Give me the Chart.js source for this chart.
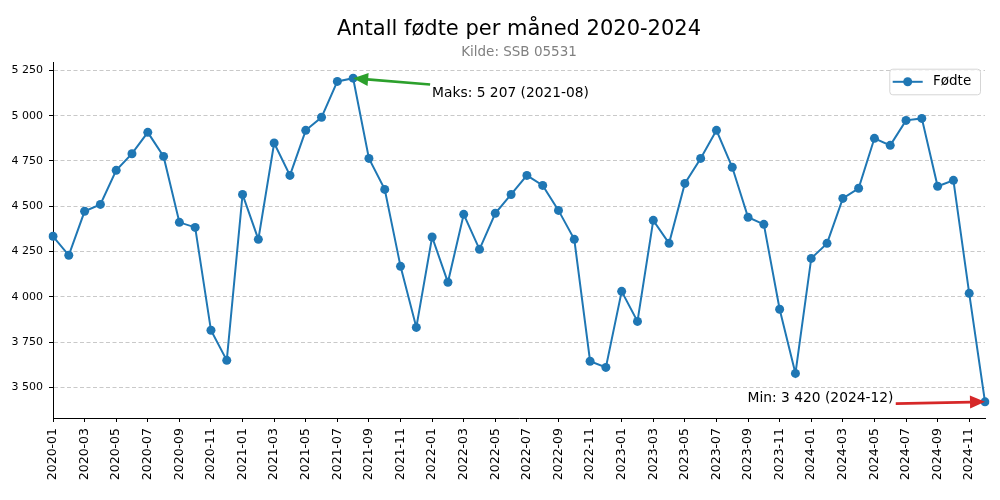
<!DOCTYPE html>
<html>
<head>
<meta charset="utf-8">
<script src="https://cdn.jsdelivr.net/npm/chart.js@4"></script>
<style>
html,body{margin:0;padding:0;background:#fff;}
canvas{display:block;}
</style>
</head>
<body>
<canvas id="c" width="1000" height="500"></canvas>
<script>
const months = [
  '2020-01','2020-02','2020-03','2020-04','2020-05','2020-06','2020-07','2020-08','2020-09','2020-10','2020-11','2020-12',
  '2021-01','2021-02','2021-03','2021-04','2021-05','2021-06','2021-07','2021-08','2021-09','2021-10','2021-11','2021-12',
  '2022-01','2022-02','2022-03','2022-04','2022-05','2022-06','2022-07','2022-08','2022-09','2022-10','2022-11','2022-12',
  '2023-01','2023-02','2023-03','2023-04','2023-05','2023-06','2023-07','2023-08','2023-09','2023-10','2023-11','2023-12',
  '2024-01','2024-02','2024-03','2024-04','2024-05','2024-06','2024-07','2024-08','2024-09','2024-10','2024-11','2024-12'
];
const births = [
  4334, 4229, 4472, 4510, 4698, 4790, 4908, 4775, 4411, 4383, 3815, 3649,
  4565, 4317, 4849, 4670, 4919, 4991, 5189, 5207, 4764, 4593, 4168, 3831,
  4330, 4080, 4455, 4262, 4461, 4565, 4670, 4615, 4477, 4317, 3644, 3610,
  4030, 3864, 4422, 4295, 4626, 4764, 4919, 4715, 4439, 4400, 3931, 3577,
  4212, 4295, 4543, 4599, 4875, 4836, 4974, 4985, 4610, 4643, 4019, 3420
];
const yTicks = [3500, 3750, 4000, 4250, 4500, 4750, 5000, 5250];
const titleText = 'Antall fødte per måned 2020-2024';
const subtitleText = 'Kilde: SSB 05531';
const seriesName = 'Fødte';

const FONT = '"DejaVu Sans", "Liberation Sans", sans-serif';
const fmt = v => String(Math.round(v)).replace(/\B(?=(\d{3})+(?!\d))/g, ' ');

const maxVal = Math.max(...births), minVal = Math.min(...births);
const maxIdx = births.indexOf(maxVal), minIdx = births.indexOf(minVal);
const pad = (maxVal - minVal) * 0.05;

function arrow(ctx, x1, y1, x2, y2, color) {
  const ang = Math.atan2(y2 - y1, x2 - x1), hl = 15, hw = 6.5;
  const bx = x2 - hl * Math.cos(ang), by = y2 - hl * Math.sin(ang);
  ctx.save();
  ctx.strokeStyle = color; ctx.lineWidth = 2.6; ctx.lineCap = 'butt';
  ctx.beginPath(); ctx.moveTo(x1, y1); ctx.lineTo(bx + Math.cos(ang), by + Math.sin(ang)); ctx.stroke();
  ctx.fillStyle = color;
  ctx.beginPath();
  ctx.moveTo(x2, y2);
  ctx.lineTo(bx - hw * Math.sin(ang), by + hw * Math.cos(ang));
  ctx.lineTo(bx + hw * Math.sin(ang), by - hw * Math.cos(ang));
  ctx.closePath(); ctx.fill();
  ctx.restore();
}

const decor = {
  id: 'decor',
  afterDraw(chart) {
    const { ctx, chartArea: a, scales: { x, y } } = chart;
    ctx.save();
    const cx = (a.left + a.right) / 2;
    ctx.textAlign = 'center'; ctx.textBaseline = 'alphabetic';
    ctx.fillStyle = '#000'; ctx.font = '21px ' + FONT;
    ctx.fillText(titleText, cx, 34.5);
    ctx.fillStyle = '#808080'; ctx.font = '13.5px ' + FONT;
    ctx.fillText(subtitleText, cx, 56);

    // annotations
    ctx.font = '13.8px ' + FONT; ctx.fillStyle = '#000';
    ctx.textAlign = 'left';
    ctx.fillText('Maks: ' + fmt(maxVal) + ' (' + months[maxIdx] + ')', x.getPixelForValue(maxIdx + 5), y.getPixelForValue(maxVal - 105));
    arrow(ctx, x.getPixelForValue(maxIdx + 5) - 2, y.getPixelForValue(maxVal - 35),
          x.getPixelForValue(maxIdx), y.getPixelForValue(maxVal), '#2ca02c');
    ctx.fillStyle = '#000';
    ctx.textAlign = 'right';
    ctx.fillText('Min: ' + fmt(minVal) + ' (' + months[minIdx] + ')', x.getPixelForValue(minIdx - 5.8), y.getPixelForValue(minVal - 3));
    arrow(ctx, x.getPixelForValue(minIdx - 5.65), y.getPixelForValue(minVal - 10),
          x.getPixelForValue(minIdx), y.getPixelForValue(minVal), '#d62728');

    // legend
    const lw = 90.7, lh = 25.6;
    const lx = a.right - 5 - lw, ly = a.top + 6.7;
    ctx.beginPath();
    ctx.roundRect(lx + 0.5, ly + 0.5, lw, lh, 3);
    ctx.fillStyle = 'rgba(255,255,255,0.8)'; ctx.fill();
    ctx.strokeStyle = '#d5d5d5'; ctx.lineWidth = 1; ctx.stroke();
    const my = ly + lh / 2 + 0.3;
    ctx.strokeStyle = '#1f77b4'; ctx.lineWidth = 2;
    ctx.beginPath(); ctx.moveTo(lx + 3.4, my); ctx.lineTo(lx + 33.4, my); ctx.stroke();
    ctx.fillStyle = '#1f77b4';
    ctx.beginPath(); ctx.arc(lx + 18.4, my, 4.5, 0, Math.PI * 2); ctx.fill();
    ctx.fillStyle = '#000'; ctx.font = '13.5px ' + FONT;
    ctx.textAlign = 'left'; ctx.textBaseline = 'middle';
    ctx.fillText(seriesName, lx + 43.7, my);
    ctx.restore();
  }
};

Chart.defaults.font.family = FONT;
Chart.defaults.color = '#000';

new Chart(document.getElementById('c'), {
  type: 'line',
  data: {
    labels: months,
    datasets: [{
      label: seriesName,
      data: births,
      borderColor: '#1f77b4',
      backgroundColor: '#1f77b4',
      borderWidth: 2,
      pointRadius: 4.5,
      pointHoverRadius: 4.5,
      pointBorderWidth: 0,
      tension: 0
    }]
  },
  options: {
    responsive: false,
    animation: false,
    devicePixelRatio: 1,
    layout: { padding: { top: 62, right: 15, left: 0, bottom: 0 } },
    plugins: { legend: { display: false }, title: { display: false }, tooltip: { enabled: false } },
    scales: {
      x: {
        type: 'category',
        offset: false,
        afterFit: s => { s.height = 82; },
        afterBuildTicks: s => { s.ticks = s.ticks.filter((t, i) => i % 2 === 0); },
        grid: { drawOnChartArea: false, drawTicks: true, tickLength: 4, tickColor: '#000', tickWidth: 1 },
        border: { display: true, color: '#000', width: 1 },
        ticks: { autoSkip: false, maxRotation: 90, minRotation: 90, padding: 6, color: '#000', font: { size: 12.5, family: FONT } }
      },
      y: {
        min: minVal - pad,
        max: maxVal + pad,
        afterFit: s => { s.width = 53; },
        afterBuildTicks: s => { s.ticks = yTicks.map(v => ({ value: v })); },
        grid: { color: '#c9c9c9', lineWidth: 1, drawTicks: true, tickLength: 4, tickColor: '#000', tickWidth: 1 },
        border: { display: true, color: '#000', width: 1, dash: [4, 2.5] },
        ticks: { padding: 6, color: '#000', font: { size: 11, family: FONT }, callback: v => fmt(v) }
      }
    }
  },
  plugins: [decor]
});
</script>
</body>
</html>
